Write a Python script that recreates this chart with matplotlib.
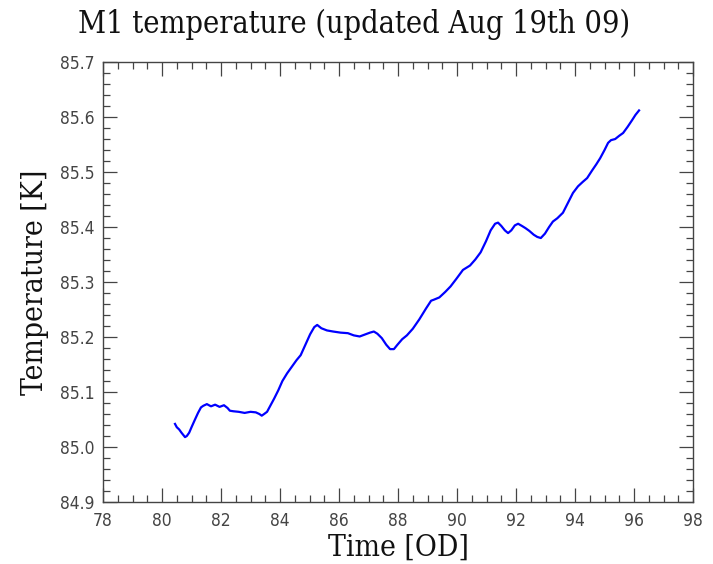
import matplotlib
matplotlib.use("Agg")
import matplotlib.pyplot as plt
from matplotlib.ticker import MultipleLocator, FormatStrFormatter

# M1 temperature log, time in OD
time_od = [80.44, 80.50, 80.58, 80.66, 80.72, 80.78, 80.84, 80.92, 81.00, 81.10,
           81.22, 81.32, 81.40, 81.52, 81.66, 81.80, 81.95, 82.10, 82.22, 82.30,
           82.42, 82.60, 82.80, 83.00, 83.18, 83.30, 83.38, 83.46, 83.56, 83.68,
           83.80, 83.94, 84.08, 84.24, 84.40, 84.56, 84.70, 84.86, 85.02, 85.16,
           85.26, 85.40, 85.59, 85.80, 86.05, 86.30, 86.50, 86.70, 86.90, 87.05,
           87.18, 87.30, 87.45, 87.60, 87.73, 87.86, 87.98, 88.14, 88.30, 88.50,
           88.72, 88.95, 89.12, 89.22, 89.40, 89.60, 89.78, 89.98, 90.20, 90.44,
           90.62, 90.80, 90.98, 91.14, 91.29, 91.39, 91.50, 91.62, 91.73, 91.84,
           91.96, 92.07, 92.20, 92.32, 92.45, 92.60, 92.72, 92.84, 92.98, 93.12,
           93.25, 93.40, 93.59, 93.76, 93.93, 94.10, 94.26, 94.41, 94.58, 94.72,
           94.85, 95.00, 95.12, 95.22, 95.36, 95.50, 95.63, 95.78, 95.93, 96.05,
           96.17]
temp_k = [85.042, 85.036, 85.032, 85.026, 85.022, 85.018, 85.020, 85.026, 85.036, 85.048,
          85.062, 85.072, 85.075, 85.078, 85.074, 85.077, 85.073, 85.076, 85.071, 85.066,
          85.065, 85.064, 85.062, 85.064, 85.063, 85.060, 85.057, 85.060, 85.064, 85.076,
          85.088, 85.103, 85.120, 85.134, 85.146, 85.158, 85.167, 85.186, 85.205, 85.218,
          85.222, 85.216, 85.212, 85.210, 85.208, 85.207, 85.203, 85.201, 85.205, 85.208,
          85.210, 85.206, 85.198, 85.186, 85.178, 85.178, 85.186, 85.196, 85.203, 85.215,
          85.232, 85.252, 85.266, 85.268, 85.272, 85.282, 85.292, 85.306, 85.322, 85.330,
          85.341, 85.354, 85.374, 85.394, 85.406, 85.408, 85.402, 85.394, 85.389, 85.394,
          85.403, 85.406, 85.402, 85.398, 85.393, 85.386, 85.382, 85.380, 85.388, 85.400,
          85.410, 85.416, 85.426, 85.444, 85.462, 85.474, 85.482, 85.489, 85.503, 85.514,
          85.525, 85.540, 85.553, 85.558, 85.560, 85.566, 85.571, 85.582, 85.594, 85.604,
          85.612]

fig = plt.figure(figsize=(7.13, 5.64), dpi=100)
ax = fig.add_axes([0.1445, 0.1099, 0.8275, 0.7801])

ax.plot(time_od, temp_k, color="#0000ff", linewidth=1.6)

ax.set_xlim(78, 98)
ax.set_ylim(84.9, 85.7)
ax.xaxis.set_major_locator(MultipleLocator(2))
ax.xaxis.set_minor_locator(MultipleLocator(0.5))
ax.yaxis.set_major_locator(MultipleLocator(0.1))
ax.yaxis.set_minor_locator(MultipleLocator(0.02))
ax.yaxis.set_major_formatter(FormatStrFormatter("%.1f"))

ax.tick_params(which="both", direction="in", top=True, right=True,
               color="#444444", width=0.9)
ax.tick_params(which="major", length=10, labelsize=12.5, labelcolor="#444444")
ax.tick_params(axis="y", which="major", pad=6)
ax.tick_params(axis="x", which="major", pad=7)
ax.tick_params(which="minor", length=5)
for lbl in ax.get_xticklabels() + ax.get_yticklabels():
    lbl.set_fontfamily("DejaVu Sans")
    lbl.set_fontstretch("condensed")
for sp in ax.spines.values():
    sp.set_color("#444444")
    sp.set_linewidth(1.0)

serif = dict(family="DejaVu Serif", stretch="condensed", color="#111111")
ax.set_xlabel("Time [OD]", fontsize=21.5, labelpad=3, **serif)
ax.set_ylabel("Temperature [K]", fontsize=21.5, labelpad=8, **serif)
fig.text(0.496, 0.957, "M1 temperature (updated Aug 19th 09)", ha="center", va="center",
         fontsize=22, **serif)

fig.savefig("out.png", dpi=100)
